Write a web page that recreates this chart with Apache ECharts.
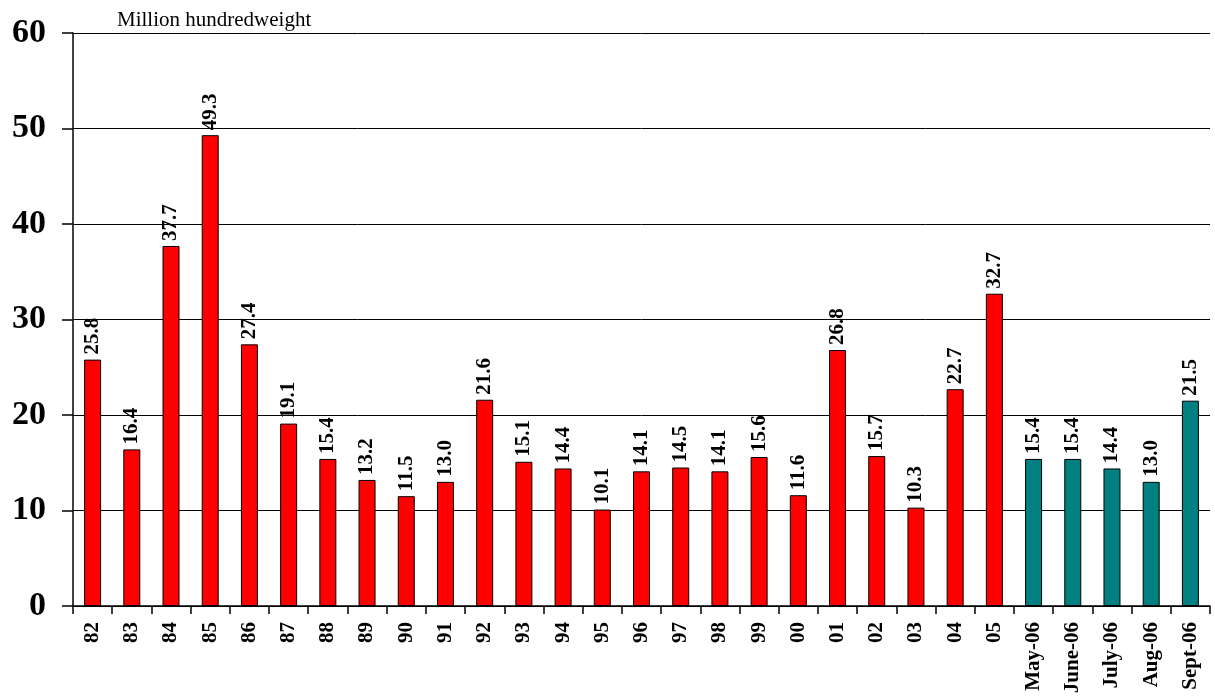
<!doctype html>
<html>
<head>
<meta charset="UTF-8">
<title>Million hundredweight</title>
<script src="https://cdn.jsdelivr.net/npm/echarts@6/dist/echarts.min.js"></script>
<style>
  html, body { margin: 0; padding: 0; background: #fff; }
  #main { width: 1215px; height: 700px; }
</style>
</head>
<body>
<div id="main"></div>
<script>
// yearly values (red) then monthly 2006 values (teal)
var yearCats = ['82','83','84','85','86','87','88','89','90','91','92','93','94','95','96','97','98','99','00','01','02','03','04','05'];
var yearVals = [25.8,16.4,37.7,49.3,27.4,19.1,15.4,13.2,11.5,13.0,21.6,15.1,14.4,10.1,14.1,14.5,14.1,15.6,11.6,26.8,15.7,10.3,22.7,32.7];
var monthCats = ['May-06','June-06','July-06','Aug-06','Sept-06'];
var monthVals = [15.4,15.4,14.4,13.0,21.5];
var yTicks = [0,10,20,30,40,50,60];

var categories = yearCats.concat(monthCats);
var data = [];
yearVals.forEach(function (v) {
    data.push({ value: v, itemStyle: { color: '#ff0000' } });
});
monthVals.forEach(function (v) {
    data.push({ value: v, itemStyle: { color: '#008080' } });
});

var serif = 'Liberation Serif';
var myChart = echarts.init(document.getElementById('main'));

var option = {
    animation: false,
    backgroundColor: '#fff',
    title: {
        text: 'Million hundredweight',
        left: 112,
        top: 5,
        textStyle: { fontFamily: serif, fontSize: 21, fontWeight: 'normal', color: '#000' }
    },
    grid: { left: 73, right: 5, top: 33, bottom: 94 },
    xAxis: {
        type: 'category',
        data: categories,
        axisLine: { lineStyle: { color: '#000', width: 1.5 } },
        axisTick: { show: true, length: 8, lineStyle: { color: '#000', width: 1.5 } },
        axisLabel: {
            rotate: 90,
            interval: 0,
            margin: 16,
            color: '#000',
            fontFamily: serif,
            fontWeight: 'bold',
            fontSize: 21
        }
    },
    yAxis: {
        type: 'value',
        min: yTicks[0],
        max: yTicks[yTicks.length - 1],
        interval: 10,
        axisLine: { show: true, lineStyle: { color: '#000', width: 1.5 } },
        axisTick: { show: true, inside: false, length: 11, lineStyle: { color: '#000', width: 1.5 } },
        splitLine: { lineStyle: { color: '#000', width: 1 } },
        axisLabel: {
            margin: 27,
            color: '#000',
            fontFamily: serif,
            fontWeight: 'bold',
            fontSize: 34
        }
    },
    series: [{
        type: 'bar',
        data: data,
        barWidth: 17,
        itemStyle: { borderColor: '#000', borderWidth: 1 },
        label: {
            show: true,
            position: 'top',
            rotate: 90,
            align: 'left',
            verticalAlign: 'middle',
            distance: 5,
            color: '#000',
            fontFamily: serif,
            fontWeight: 'bold',
            fontSize: 21,
            formatter: function (p) { return p.value.toFixed(1); }
        }
    }]
};

myChart.setOption(option);
</script>
</body>
</html>
